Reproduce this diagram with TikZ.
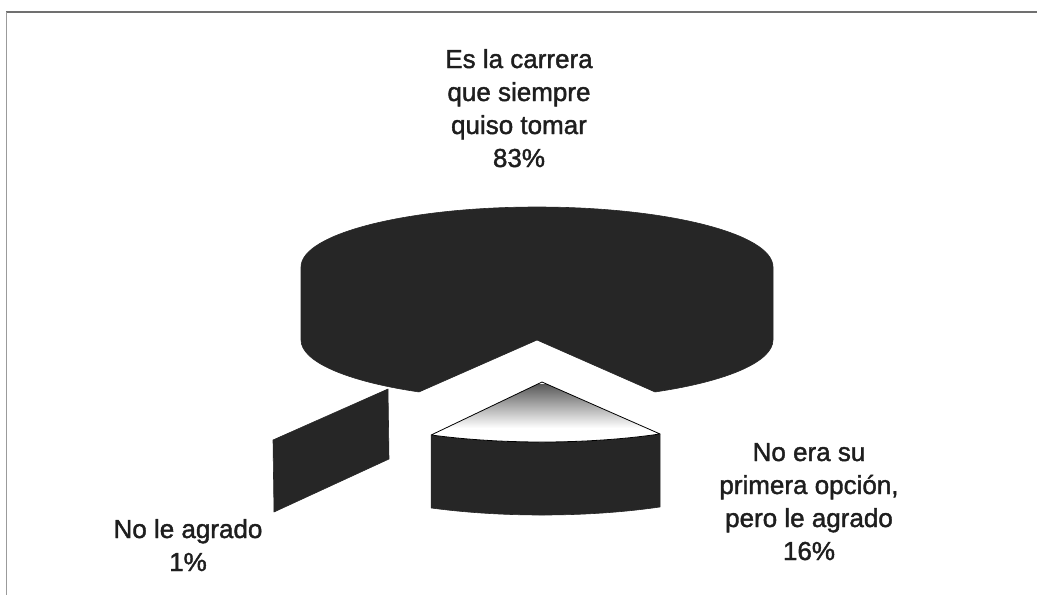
\documentclass[tikz,border=0pt]{standalone}
\usepackage{fontspec}
\setmainfont{Liberation Sans}[FakeBold=1.5]
\usetikzlibrary{calc}
\definecolor{pieDark}{HTML}{262626}
\definecolor{frameGray}{HTML}{707070}
\definecolor{txt}{HTML}{1E1E1E}
\begin{document}
\begin{tikzpicture}[x=1pt,y=-1pt,
  slice/.style={fill=pieDark, draw=pieDark, line width=0.6pt, line join=round},
  topface/.style={draw=black, line width=0.8pt, line join=round},
  lbl/.style={align=center, font=\fontsize{26}{33}\selectfont, text=txt, inner sep=0pt, anchor=base}]
\useasboundingbox (0,0) rectangle (1037,595);
% frame
\draw[frameGray, line width=2pt] (1037,12) -- (6,12);
\draw[frameGray!70, line width=1pt] (6,12) -- (6,595);
% 1% slice (exploded, seen edge-on)
\path[slice] (273,440) -- (388,389) -- (389,459) -- (274,512) -- cycle;
% 83% slice: top at (537,267), bottom at (537,340), rx 236, ry 60
\path[slice] (301,267) arc[start angle=180, end angle=360, x radius=236, y radius=60]
  -- (773,340) arc[start angle=0, end angle=60, x radius=236, y radius=60]
  -- (537,340) -- ($(537,340)+(120:236 and 60)$) arc[start angle=120, end angle=180, x radius=236, y radius=60]
  -- cycle;
% 16% slice: apex (542,382)
\coordinate (apex) at (542,382);
\path[slice] ($(apex)+(60:236 and 60)$) arc[start angle=60, end angle=118, x radius=236, y radius=60]
  -- ++(0,73) arc[start angle=118, end angle=60, x radius=236, y radius=60] -- cycle;
\begin{scope}
  \clip (apex) -- ($(apex)+(60:236 and 60)$) arc[start angle=60, end angle=118, x radius=236, y radius=60] -- cycle;
  \fill[white] (420,380) rectangle (665,450);
  \shade[top color=black!65, bottom color=white] (420,384) rectangle (665,428);
\end{scope}
\draw[topface] (apex) -- ($(apex)+(60:236 and 60)$) arc[start angle=60, end angle=118, x radius=236, y radius=60] -- cycle;
% labels (base anchor = baseline of last line)
\node[lbl] (lblTop) at (519,167) {Es la carrera\\que siempre\\quiso tomar\\83\%};
\node[lbl] (lblLeft) at (188,571) {No le agrado\\1\%};
\node[lbl] (lblRight) at (809,560) {No era su\\primera opción,\\pero le agrado\\16\%};
\end{tikzpicture}
\end{document}
